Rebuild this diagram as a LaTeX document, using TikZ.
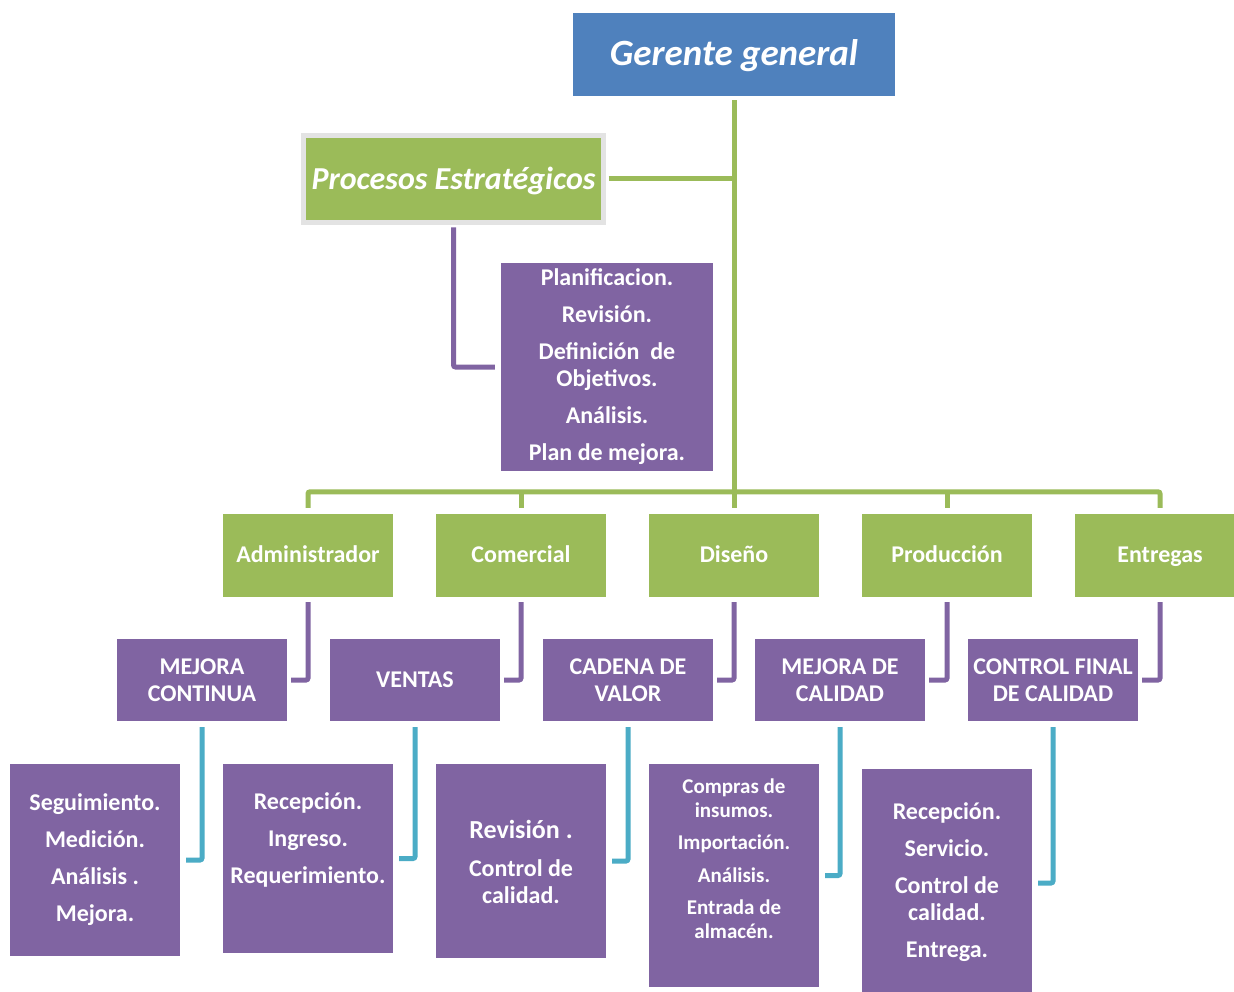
\documentclass[tikz,border=0pt]{standalone}
\usepackage{fontspec}
\setmainfont{Carlito}
\usetikzlibrary{calc}
\definecolor{bluebox}{HTML}{4F81BD}
\definecolor{greenbox}{HTML}{9BBB59}
\definecolor{purplebox}{HTML}{8064A2}
\definecolor{tealline}{HTML}{4BACC6}
\definecolor{framegray}{HTML}{E3E3E3}

\begin{document}
\begin{tikzpicture}[x=1pt,y=-1pt,
  box/.style={rectangle, inner sep=0pt, text=white, align=center,
    font=\bfseries\fontsize{24}{27}\selectfont},
  gbox/.style={rectangle, inner sep=0pt, fill=greenbox, minimum width=170pt, minimum height=83pt},
  pbox/.style={box, fill=purplebox, minimum width=170pt, minimum height=82pt},
  leaf/.style={rectangle, inner sep=0pt, fill=purplebox, minimum width=170pt},
  txt/.style={text=white, inner sep=0pt, align=center,
    font=\bfseries\fontsize{24}{27}\selectfont},
  lbl/.style={text=white, inner sep=0pt, anchor=base, font=\bfseries\fontsize{24}{27}\selectfont},
  gline/.style={draw=greenbox, line width=5pt, rounded corners=2pt},
  pline/.style={draw=purplebox, line width=5pt, rounded corners=2pt},
  tline/.style={draw=tealline, line width=5pt, rounded corners=2pt},
]
\clip (0,0) rectangle (1234,992);
\fill[white] (0,0) rectangle (1234,992);

% top of the chart
\node[rectangle, inner sep=0pt, fill=bluebox, minimum width=322pt, minimum height=83pt] (gg) at (734,54.5) {};
\node[lbl, font=\bfseries\itshape\fontsize{37}{42}\selectfont] (ggt) at (734,66) {Gerente general};
\node[rectangle, inner sep=0pt, fill=greenbox, draw=framegray, line width=5pt,
  minimum width=300pt, minimum height=87pt] (pe) at (453.5,179) {};
\node[lbl, font=\bfseries\itshape\fontsize{32}{36}\selectfont] (pet) at (453.5,190) {Procesos Estratégicos};

% strategic tasks
\node[leaf, minimum width=212pt, minimum height=208pt] (plan) at (607,367) {};
\node[txt] (plant) at (607,366.5) {Planificacion.\\[10pt]Revisión.\\[10pt]Definición~ de\\Objetivos.\\[10pt]Análisis.\\[10pt]Plan de mejora.};

% departments
\node[gbox] (adm) at (308,555.5) {};
\node[gbox] (com) at (521,555.5) {};
\node[gbox] (dis) at (734,555.5) {};
\node[gbox] (pro) at (947,555.5) {};
\node[gbox] (ent) at (1160,555.5) {};
\node[lbl] (admt) at (308,562) {Administrador};
\node[lbl] (comt) at (521,562) {Comercial};
\node[lbl] (dist) at (734,562) {Diseño};
\node[lbl] (prot) at (947,562) {Producción};
\node[lbl] (entt) at (1160,562) {Entregas};

% processes
\node[pbox] (mc)  at (202,680) {MEJORA\\CONTINUA};
\node[pbox] (ven) at (415,680) {VENTAS};
\node[pbox] (cad) at (628,680) {CADENA DE\\VALOR};
\node[pbox] (mdc) at (840,680) {MEJORA DE\\CALIDAD};
\node[pbox] (cfc) at (1053,680) {CONTROL FINAL\\DE CALIDAD};

% activities
\node[leaf, minimum height=192pt] (b1) at (95,860) {};
\node[leaf, minimum height=189pt] (b2) at (308,858.5) {};
\node[leaf, minimum height=194pt] (b3) at (521,861) {};
\node[leaf, minimum height=223pt] (b4) at (734,875.5) {};
\node[leaf, minimum height=228pt] (b5) at (947,883) {};

\node[txt] (t1) at (95,859.5) {Seguimiento.\\[10pt]Medición.\\[10pt]Análisis .\\[10pt]Mejora.};
\node[txt] (t2) at (308,839.5) {Recepción.\\[10pt]Ingreso.\\[10pt]Requerimiento.};
\node[txt] (t3) at (521,861.5) {{\fontsize{26}{27}\selectfont Revisión .}\\[11pt]Control de\\calidad.};
\node[txt, font=\bfseries\fontsize{21}{23.5}\selectfont] (t4) at (734,858.5)
  {Compras de\\insumos.\\[9pt]Importación.\\[9pt]Análisis.\\[9pt]Entrada de\\almacén.};
\node[txt] (t5) at (947,882) {Recepción.\\[10pt]Servicio.\\[10pt]Control de\\calidad.\\[10pt]Entrega.};

% green hierarchy lines
\draw[gline] ($(gg.south)+(0,4)$) -- ($(dis.north)+(0,-6)$);
\draw[gline] ($(pe.east)+(2.5,0)$) -- (pe.east -| gg.south);
\draw[gline] ($(adm.north)+(0,-6)$) |- ($(ent.north)+(0,-22)$) -- ($(ent.north)+(0,-6)$);
\draw[gline] ($(com.north)+(0,-6)$) -- ++(0,-18);
\draw[gline] ($(pro.north)+(0,-6)$) -- ++(0,-18);

% purple links
\draw[pline] ($(pe.south)+(0,2.5)$) |- ($(plan.west)+(-6,0)$);
\draw[pline] ($(adm.south)+(0,5)$) |- ($(mc.east)+(4,0)$);
\draw[pline] ($(com.south)+(0,5)$) |- ($(ven.east)+(4,0)$);
\draw[pline] ($(dis.south)+(0,5)$) |- ($(cad.east)+(4,0)$);
\draw[pline] ($(pro.south)+(0,5)$) |- ($(mdc.east)+(4,0)$);
\draw[pline] ($(ent.south)+(0,5)$) |- ($(cfc.east)+(4,0)$);

% teal links
\draw[tline] ($(mc.south)+(0,6)$)  |- ($(b1.east)+(6,0)$);
\draw[tline] ($(ven.south)+(0,6)$) |- ($(b2.east)+(6,0)$);
\draw[tline] ($(cad.south)+(0,6)$) |- ($(b3.east)+(6,0)$);
\draw[tline] ($(mdc.south)+(0,6)$) |- ($(b4.east)+(6,0)$);
\draw[tline] ($(cfc.south)+(0,6)$) |- ($(b5.east)+(6,0)$);
\end{tikzpicture}
\end{document}
